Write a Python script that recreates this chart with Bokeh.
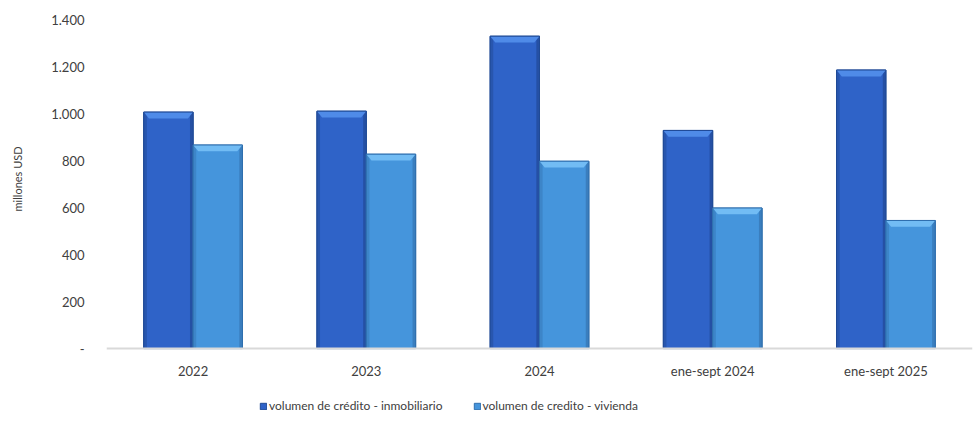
from bokeh.plotting import figure
from bokeh.models import FixedTicker, Legend, LegendItem, ColumnDataSource
from bokeh.embed import file_html
from bokeh.resources import INLINE

categories = ["2022", "2023", "2024", "ene-sept 2024", "ene-sept 2025"]
inmobiliario = [1006, 1010, 1329, 928, 1185]
vivienda = [866, 827, 797, 598, 545]
series_names = ["volumen de crédito - inmobiliario", "volumen de credito - vivienda"]
y_ticks = [0, 200, 400, 600, 800, 1000, 1200, 1400]
y_tick_labels = ["-", "200", "400", "600", "800", "1.000", "1.200", "1.400"]
y_title = "millones USD"

FONT = "Lato"
W = 0.285          # bar width (category units)
CAP_H = 27         # bevel cap height (value units ~ 6px)
INSET = 0.03       # bevel inset (category units)
EDGE = 0.018       # side shading strip width

p = figure(frame_width=866, frame_height=409, output_backend="svg", toolbar_location=None,
           x_range=(0, len(categories)), y_range=(-340, 1400),
           min_border_left=106, min_border_right=4, min_border_top=19, min_border_bottom=0)
p.outline_line_color = None
p.xgrid.grid_line_color = None
p.ygrid.grid_line_color = None
p.background_fill_color = "white"
p.border_fill_color = "white"

styles = [
    dict(body="#2F63C8", left="#2856AE", right="#2550A4", cap="#4F8BE8", line="#1F4A96", off=-W / 2),
    dict(body="#4595DC", left="#3D85C8", right="#3A7EBE", cap="#72BCF4", line="#2F6FAE", off=W / 2),
]

renderers = []
for vals, st in zip([inmobiliario, vivienda], styles):
    xs = [i + 0.5 + st["off"] for i in range(len(categories))]
    src = ColumnDataSource(dict(x=xs, top=vals))
    r = p.vbar(x="x", top="top", bottom=0, width=W, source=src,
               fill_color=st["body"], line_color=st["line"], line_width=1)
    renderers.append(r)
    # side shading strips
    p.vbar(x=[x - W / 2 + EDGE / 2 for x in xs], top=vals, bottom=0, width=EDGE,
           fill_color=st["left"], line_color=None)
    p.vbar(x=[x + W / 2 - EDGE / 2 for x in xs], top=vals, bottom=0, width=EDGE,
           fill_color=st["right"], line_color=None)
    # top bevel cap
    cxs = [[x - W / 2, x + W / 2, x + W / 2 - INSET, x - W / 2 + INSET] for x in xs]
    cys = [[v, v, v - CAP_H, v - CAP_H] for v in vals]
    p.patches(cxs, cys, fill_color=st["cap"], line_color=None)
    # redraw outline
    p.vbar(x=xs, top=vals, bottom=0, width=W, fill_color=None, line_color=st["line"], line_width=1)

# x axis (drawn at value 0 inside the frame)
p.xaxis.fixed_location = 0
p.xaxis.ticker = FixedTicker(ticks=[i + 0.5 for i in range(len(categories))])
p.xaxis.major_label_overrides = {i + 0.5: c for i, c in enumerate(categories)}
p.xaxis.axis_line_color = "#D9D9D9"
p.xaxis.axis_line_width = 2
p.xaxis.major_tick_line_color = None
p.xaxis.minor_tick_line_color = None
p.xaxis.major_tick_out = 0
p.xaxis.major_tick_in = 0
p.xaxis.major_label_text_font = FONT
p.xaxis.major_label_text_font_size = "13px"
p.xaxis.major_label_text_color = "#404040"
p.xaxis.major_label_standoff = 14

# y axis
p.yaxis.ticker = FixedTicker(ticks=y_ticks)
p.yaxis.major_label_overrides = {t: l for t, l in zip(y_ticks, y_tick_labels)}
p.yaxis.axis_line_color = None
p.yaxis.major_tick_line_color = None
p.yaxis.minor_tick_line_color = None
p.yaxis.major_tick_out = 0
p.yaxis.major_tick_in = 0
p.yaxis.major_label_text_font = FONT
p.yaxis.major_label_text_font_size = "13px"
p.yaxis.major_label_text_color = "#404040"
p.yaxis.major_label_standoff = 22
# leading non-breaking spaces lift the centred title to the middle of the 0-1400 span
p.yaxis.axis_label = "\u00a0" * 32 + y_title
p.yaxis.axis_label_text_font = FONT
p.yaxis.axis_label_text_font_size = "11px"
p.yaxis.axis_label_text_font_style = "normal"
p.yaxis.axis_label_text_color = "#404040"
p.yaxis.axis_label_standoff = 24

legend = Legend(items=[LegendItem(label=n, renderers=[r]) for n, r in zip(series_names, renderers)],
                orientation="horizontal", location=(153, 15),
                label_text_font=FONT, label_text_font_size="12px", label_text_color="#404040",
                glyph_width=8, glyph_height=8, label_standoff=2, spacing=30,
                border_line_color=None, background_fill_alpha=0, padding=4, margin=0)
p.add_layout(legend)

open("out.html", "w").write(file_html(p, INLINE))
